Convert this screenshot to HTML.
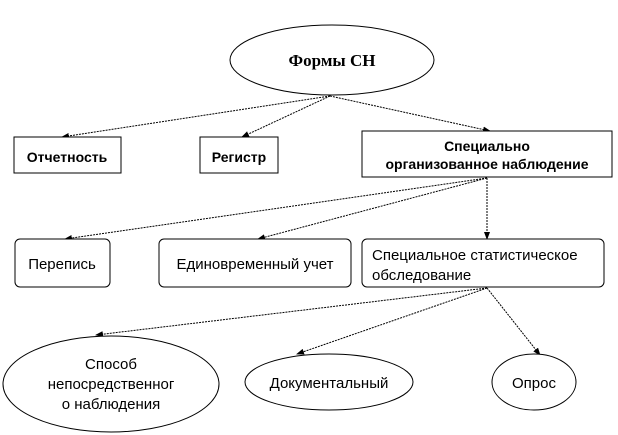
<!DOCTYPE html>
<html><head><meta charset="utf-8"><style>
html,body{margin:0;padding:0;background:#fff;}
svg{display:block;}
text{font-family:"Liberation Sans","Noto Sans CJK SC",sans-serif;font-size:14px;fill:#000;}
.b{font-weight:bold;}
</style></head><body>
<svg width="618" height="435" viewBox="0 0 618 435" xmlns="http://www.w3.org/2000/svg">
<defs>
<marker id="a" markerWidth="8" markerHeight="6" refX="7" refY="3" orient="auto" markerUnits="userSpaceOnUse">
<path d="M0,0 L8,3 L0,6 z" fill="#000"/></marker>
</defs>
<g stroke="#000" stroke-width="1" fill="none" stroke-dasharray="2,1" marker-end="url(#a)">
<line x1="330" y1="96" x2="62" y2="137"/>
<line x1="330" y1="96" x2="242" y2="137"/>
<line x1="330" y1="96" x2="490" y2="131"/>
<line x1="487" y1="178" x2="65" y2="239"/>
<line x1="487" y1="178" x2="258" y2="239"/>
<line x1="487" y1="178" x2="487" y2="239"/>
<line x1="487" y1="288" x2="96" y2="335"/>
<line x1="487" y1="288" x2="297" y2="354"/>
<line x1="487" y1="288" x2="540" y2="355"/>
</g>
<g stroke="#000" fill="#fff">
<ellipse cx="332" cy="60" rx="102" ry="35"/>
<rect x="14" y="137" width="107" height="36"/>
<rect x="200" y="137" width="78" height="36"/>
<rect x="362" y="131" width="250" height="46"/>
<rect x="15" y="239" width="95" height="48" rx="5"/>
<rect x="159" y="239" width="192" height="48" rx="5"/>
<rect x="362" y="239" width="242" height="48" rx="5"/>
<ellipse cx="111" cy="384" rx="108" ry="48"/>
<ellipse cx="329" cy="382" rx="84" ry="28"/>
<ellipse cx="534" cy="382" rx="42" ry="28"/>
</g>
<text x="332" y="66" text-anchor="middle" class="b" style="font-family:'Liberation Serif',serif;font-size:17px">Формы СН</text>
<text x="67" y="162" text-anchor="middle" class="b" style="font-size:14px">Отчетность</text>
<text x="239" y="162" text-anchor="middle" class="b" style="font-size:14px">Регистр</text>
<text x="487" y="151" text-anchor="middle" class="b" style="font-size:14px">Специально</text>
<text x="487" y="169" text-anchor="middle" class="b" style="font-size:14px">организованное наблюдение</text>
<text x="62" y="269" text-anchor="middle" style="font-size:15px">Перепись</text>
<text x="255" y="269" text-anchor="middle" style="font-size:15px">Единовременный учет</text>
<text x="372" y="260" style="font-size:15px">Специальное  статистическое</text>
<text x="372" y="280" style="font-size:15px">обследование</text>
<text x="111" y="369" text-anchor="middle" style="font-size:15px">Способ</text>
<text x="111" y="389" text-anchor="middle" style="font-size:15px">непосредственног</text>
<text x="111" y="409" text-anchor="middle" style="font-size:15px">о наблюдения</text>
<text x="329" y="388" text-anchor="middle" style="font-size:15px">Документальный</text>
<text x="534" y="388" text-anchor="middle" style="font-size:15px">Опрос</text>
</svg>
</body></html>
